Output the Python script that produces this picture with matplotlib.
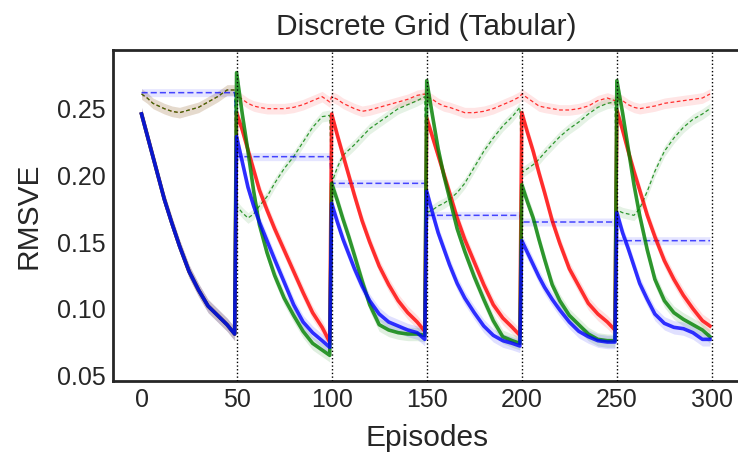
import numpy as np
import matplotlib
matplotlib.use("Agg")
import matplotlib.pyplot as plt

plt.rcParams['font.family'] = ['Liberation Sans', 'DejaVu Sans']

# ---- data ----
task_starts = [0, 50, 100, 150, 200, 250]
offsets = [0, 3, 6, 9, 12, 16, 20, 25, 30, 35, 40, 45, 49]
boundaries = [50, 100, 150, 200, 250, 300]

red_solid = [
    [0.246, 0.230, 0.214, 0.198, 0.182, 0.164, 0.147, 0.128, 0.114, 0.102, 0.095, 0.088, 0.081],
    [0.247, 0.234, 0.219, 0.204, 0.189, 0.174, 0.160, 0.144, 0.128, 0.112, 0.097, 0.086, 0.075],
    [0.246, 0.230, 0.215, 0.200, 0.185, 0.166, 0.150, 0.132, 0.118, 0.106, 0.097, 0.090, 0.083],
    [0.243, 0.229, 0.215, 0.201, 0.187, 0.168, 0.152, 0.135, 0.118, 0.103, 0.093, 0.086, 0.080],
    [0.247, 0.232, 0.218, 0.202, 0.187, 0.166, 0.149, 0.130, 0.117, 0.104, 0.096, 0.090, 0.084],
    [0.249, 0.234, 0.218, 0.203, 0.189, 0.170, 0.154, 0.136, 0.122, 0.110, 0.100, 0.091, 0.087],
]
green_solid = [
    [0.246, 0.230, 0.214, 0.198, 0.182, 0.164, 0.147, 0.128, 0.114, 0.102, 0.095, 0.088, 0.081],
    [0.277, 0.246, 0.218, 0.188, 0.163, 0.142, 0.125, 0.108, 0.095, 0.083, 0.074, 0.069, 0.065],
    [0.194, 0.181, 0.167, 0.154, 0.140, 0.121, 0.103, 0.088, 0.084, 0.082, 0.081, 0.081, 0.080],
    [0.271, 0.245, 0.220, 0.200, 0.183, 0.160, 0.143, 0.124, 0.107, 0.091, 0.079, 0.076, 0.074],
    [0.193, 0.180, 0.168, 0.152, 0.137, 0.118, 0.106, 0.095, 0.088, 0.081, 0.077, 0.076, 0.076],
    [0.271, 0.247, 0.220, 0.193, 0.170, 0.144, 0.122, 0.106, 0.097, 0.092, 0.088, 0.084, 0.079],
]
blue_solid = [
    [0.246, 0.230, 0.214, 0.198, 0.182, 0.164, 0.147, 0.128, 0.114, 0.102, 0.095, 0.088, 0.081],
    [0.229, 0.210, 0.191, 0.177, 0.165, 0.151, 0.137, 0.120, 0.103, 0.090, 0.082, 0.076, 0.071],
    [0.179, 0.165, 0.152, 0.141, 0.130, 0.117, 0.106, 0.096, 0.090, 0.087, 0.084, 0.082, 0.077],
    [0.188, 0.172, 0.157, 0.145, 0.133, 0.119, 0.108, 0.097, 0.087, 0.080, 0.076, 0.074, 0.072],
    [0.151, 0.142, 0.133, 0.124, 0.116, 0.107, 0.099, 0.090, 0.083, 0.079, 0.076, 0.075, 0.075],
    [0.172, 0.157, 0.145, 0.132, 0.119, 0.107, 0.096, 0.089, 0.086, 0.085, 0.082, 0.077, 0.077],
]
red_dashed = [
    [0.261, 0.258, 0.254, 0.252, 0.250, 0.248, 0.247, 0.249, 0.251, 0.255, 0.259, 0.264, 0.264],
    [0.260, 0.257, 0.254, 0.252, 0.251, 0.250, 0.250, 0.250, 0.251, 0.253, 0.256, 0.259, 0.255],
    [0.259, 0.257, 0.254, 0.252, 0.250, 0.248, 0.249, 0.251, 0.253, 0.255, 0.257, 0.260, 0.261],
    [0.259, 0.257, 0.254, 0.252, 0.251, 0.249, 0.247, 0.247, 0.248, 0.250, 0.253, 0.256, 0.259],
    [0.261, 0.258, 0.255, 0.252, 0.251, 0.250, 0.249, 0.249, 0.250, 0.252, 0.256, 0.258, 0.256],
    [0.258, 0.256, 0.253, 0.251, 0.250, 0.251, 0.252, 0.254, 0.255, 0.256, 0.257, 0.258, 0.261],
]
green_dashed = [
    [0.261, 0.258, 0.254, 0.252, 0.250, 0.248, 0.247, 0.249, 0.251, 0.255, 0.259, 0.264, 0.264],
    [0.177, 0.172, 0.168, 0.171, 0.177, 0.184, 0.194, 0.205, 0.214, 0.225, 0.236, 0.244, 0.245],
    [0.194, 0.206, 0.215, 0.219, 0.223, 0.229, 0.235, 0.240, 0.245, 0.250, 0.253, 0.256, 0.259],
    [0.172, 0.174, 0.177, 0.179, 0.182, 0.187, 0.194, 0.206, 0.218, 0.228, 0.237, 0.244, 0.251],
    [0.202, 0.205, 0.208, 0.212, 0.217, 0.223, 0.229, 0.235, 0.240, 0.246, 0.251, 0.254, 0.255],
    [0.174, 0.172, 0.171, 0.170, 0.175, 0.188, 0.203, 0.218, 0.228, 0.236, 0.242, 0.246, 0.250],
]
blue_dashed = [0.262, 0.214, 0.194, 0.170, 0.165, 0.151]

band_solid = 0.005
band_dashed = 0.004
band_blue_dashed = 0.003

# ---- build arrays ----
x = np.concatenate([np.array(offsets) + s for s in task_starts])

def flat(seg_list):
    return np.concatenate([np.array(v, dtype=float) for v in seg_list])

rs, gs, bs = flat(red_solid), flat(green_solid), flat(blue_solid)
rd, gd = flat(red_dashed), flat(green_dashed)
bd = np.repeat(np.array(blue_dashed), len(offsets))

fig = plt.figure(figsize=(7.38, 4.57), dpi=100)
ax = fig.add_axes([0.1531, 0.167, 0.8502, 0.7236])

def draw(y, color, band, ls, lw, alpha, dashes=None, band_alpha=0.1):
    ax.fill_between(x, y - band, y + band, color=color, alpha=band_alpha, lw=0)
    line, = ax.plot(x, y, color=color, lw=lw, ls=ls, alpha=alpha)
    if dashes is not None:
        line.set_dashes(dashes)

draw(rd, 'red', band_dashed, '--', 0.9, 0.8, (3, 2))
draw(gd, 'green', band_dashed, '--', 0.9, 0.8, (3, 2))
draw(bd, 'blue', band_blue_dashed, '--', 1.1, 0.7, (4, 2))
draw(rs, 'red', band_solid, '-', 2.6, 0.8, band_alpha=0.12)
draw(gs, 'green', band_solid, '-', 2.6, 0.8, band_alpha=0.12)
draw(bs, 'blue', band_solid, '-', 2.6, 0.8, band_alpha=0.12)

for b in boundaries:
    ax.axvline(b, color='black', ls=':', lw=1.0, zorder=5)

ax.set_xlim(-15, 315)
ax.set_ylim(0.046, 0.294)
ax.set_xticks([0, 50, 100, 150, 200, 250, 300])
ax.set_yticks([0.05, 0.10, 0.15, 0.20, 0.25])
ax.set_yticklabels(['0.05', '0.10', '0.15', '0.20', '0.25'])
ax.tick_params(axis='both', length=0, labelsize=18, pad=5, labelcolor='#262626')

for side in ['left', 'bottom', 'top']:
    ax.spines[side].set_color('#262626')
    ax.spines[side].set_linewidth(2.0)
ax.spines['right'].set_visible(False)

ax.set_title('Discrete Grid (Tabular)', fontsize=21.5, color='#262626', pad=11)
ax.set_xlabel('Episodes', fontsize=21.5, color='#262626', labelpad=9)
ax.set_ylabel('RMSVE', fontsize=21.5, color='#262626', labelpad=11)

fig.savefig('out.png', dpi=100)
